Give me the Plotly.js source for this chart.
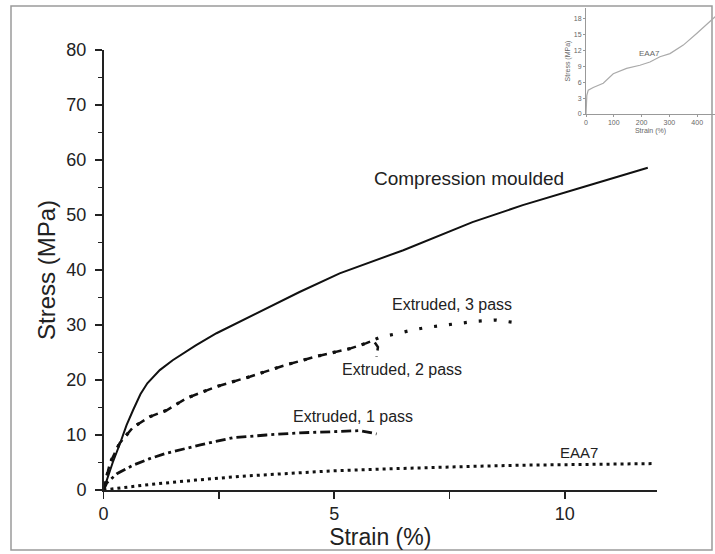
<!DOCTYPE html>
<html>
<head>
<meta charset="utf-8">
<script src="https://cdn.plot.ly/plotly-3.0.1.min.js"></script>
<style>html,body{margin:0;padding:0;background:#fff}#chart{width:715px;height:554px}</style>
</head>
<body>
<div id="chart"></div>
<script>
// Main chart data (strain %, stress MPa)
const cmStrain = [0, 0.07, 0.2, 0.36, 0.5, 0.64, 0.8, 0.95, 1.22, 1.5, 1.73, 2.0, 2.45, 3.17, 4.25, 5.12, 6.5, 8.0, 9.09, 10.33, 11.8];
const cmStress = [0, 1.8, 5.0, 8.5, 11.8, 14.5, 17.4, 19.4, 21.8, 23.6, 24.9, 26.3, 28.5, 31.5, 36.0, 39.4, 43.6, 48.7, 51.8, 54.9, 58.6];

const p1Strain = [0, 0.07, 0.3, 0.64, 1.0, 1.37, 2.1, 2.8, 3.53, 4.25, 4.97, 5.56, 5.92];
const p1Stress = [0, 1.3, 3.0, 4.5, 5.7, 6.7, 8.2, 9.5, 10.0, 10.4, 10.6, 10.8, 10.2];

const p2Strain = [0, 0.14, 0.35, 0.64, 1.0, 1.37, 1.8, 2.45, 3.17, 3.9, 4.62, 5.34, 5.7, 5.85, 5.95, 5.92];
const p2Stress = [0, 4.9, 8.5, 11.4, 13.3, 14.5, 16.7, 18.8, 20.6, 22.6, 24.3, 25.7, 26.7, 27.2, 26.0, 24.2];

const p3Strain = [0, 0.14, 0.35, 0.64, 1.0, 1.37, 1.8, 2.45, 3.17, 3.9, 4.62, 5.34, 5.7, 6.0, 6.4, 6.7, 7.04, 7.4, 7.77, 8.1, 8.5, 8.87];
const p3Stress = [0, 4.9, 8.5, 11.4, 13.3, 14.5, 16.7, 18.8, 20.6, 22.6, 24.3, 25.7, 26.7, 27.8, 28.5, 29.1, 29.6, 30.0, 30.4, 30.7, 30.9, 30.5];

const eaStrain = [0, 0.3, 1, 2, 3, 4, 5, 6, 7, 8, 9, 10, 11, 11.9];
const eaStress = [0, 0.3, 1.0, 1.8, 2.5, 3.0, 3.5, 3.8, 4.1, 4.3, 4.5, 4.6, 4.7, 4.8];

// Inset data (EAA7, full range)
const inStrain = [0, 3, 8, 26, 62, 98, 146, 194, 230, 266, 302, 350, 398, 440, 470];
const inStress = [0, 3.5, 4.5, 5.0, 5.8, 7.6, 8.6, 9.2, 9.8, 10.8, 11.4, 13.0, 15.2, 17.2, 18.6];

const mainXTicks = [0, 5, 10];
const mainYTicks = [0, 10, 20, 30, 40, 50, 60, 70, 80];
const insetXTicks = [0, 100, 200, 300, 400];
const insetYTicks = [0, 3, 6, 9, 12, 15, 18];

const labels = [
  {text: 'Compression moulded', x: 7.92, y: 56.7, size: 19},
  {text: 'Extruded, 3 pass', x: 7.55, y: 33.8, size: 16},
  {text: 'Extruded, 2 pass', x: 6.47, y: 22.0, size: 16},
  {text: 'Extruded, 1 pass', x: 5.4, y: 13.3, size: 16},
  {text: 'EAA7', x: 10.3, y: 6.9, size: 15}
];

const traces = [
  {x: eaStrain, y: eaStress, mode: 'lines', line: {color: '#111', width: 3, dash: '3px,4px'}},
  {x: p3Strain, y: p3Stress, mode: 'lines', line: {color: '#111', width: 3.2, dash: '3px,12px'}},
  {x: p2Strain, y: p2Stress, mode: 'lines', line: {color: '#111', width: 2.5, dash: '9px,6px'}},
  {x: p1Strain, y: p1Stress, mode: 'lines', line: {color: '#111', width: 2.8, dash: '10px,4px,3px,4px'}},
  {x: cmStrain, y: cmStress, mode: 'lines', line: {color: '#111', width: 2}},
  {x: inStrain, y: inStress, mode: 'lines', xaxis: 'x2', yaxis: 'y2', line: {color: '#aaa', width: 1.2}}
];

const W = 715, H = 554;
const px = v => v / W, py = v => 1 - v / H;
const FONT = 'Liberation Sans, Arial, sans-serif';

const annotations = labels.map(l => ({
  text: l.text, x: l.x, y: l.y, xref: 'x', yref: 'y', showarrow: false,
  font: {family: FONT, size: l.size, color: '#222'}
}));
annotations.push({text: 'EAA7', x: 230, y: 11.5, xref: 'x2', yref: 'y2', showarrow: false,
  font: {family: FONT, size: 8, color: '#666'}});

const layout = {
  width: W, height: H,
  margin: {l: 0, r: 0, t: 0, b: 0},
  paper_bgcolor: '#fff', plot_bgcolor: 'rgba(0,0,0,0)',
  showlegend: false,
  font: {family: FONT, color: '#222'},
  xaxis: {
    domain: [px(103.5), px(657)], range: [0, 12], tickvals: mainXTicks, ticktext: mainXTicks.map(String),
    ticks: 'outside', ticklen: 7, tickwidth: 1.5, tickcolor: '#222',
    minor: {tickvals: [2.5, 7.5], ticks: 'outside', ticklen: 7, tickwidth: 1.5, tickcolor: '#222'},
    showline: true, linecolor: '#222', linewidth: 1.5, showgrid: false, zeroline: false,
    tickfont: {size: 18, color: '#222'}, automargin: false, ticklabelstandoff: 0,
    title: {text: 'Strain (%)', font: {size: 23, color: '#222'}, standoff: 2}
  },
  yaxis: {
    domain: [py(490), py(50)], range: [0, 80], tickvals: mainYTicks, ticktext: mainYTicks.map(String),
    ticks: 'outside', ticklen: 7, tickwidth: 1.5, tickcolor: '#222',
    minor: {tickvals: [5, 15, 25, 35, 45, 55, 65, 75], ticks: 'outside', ticklen: 4, tickwidth: 1.5, tickcolor: '#222'},
    showline: true, linecolor: '#222', linewidth: 1.5, showgrid: false, zeroline: false,
    tickfont: {size: 18, color: '#222'}, automargin: false, ticklabelstandoff: 5,
    title: {text: 'Stress (MPa)', font: {size: 24, color: '#222'}, standoff: 4}
  },
  xaxis2: {
    domain: [px(586), 1], range: [0, 464], anchor: 'y2', tickvals: insetXTicks, ticktext: insetXTicks.map(String),
    ticks: 'outside', ticklen: 2, tickwidth: 1, tickcolor: '#999',
    showline: true, linecolor: '#999', linewidth: 1, showgrid: false, zeroline: false,
    tickfont: {size: 7, color: '#666'}, automargin: false,
    title: {text: 'Strain (%)', font: {size: 7, color: '#666'}, standoff: 2}
  },
  yaxis2: {
    domain: [py(114), py(8)], range: [0, 20], anchor: 'x2', tickvals: insetYTicks, ticktext: insetYTicks.map(String),
    ticks: 'outside', ticklen: 2, tickwidth: 1, tickcolor: '#999',
    showline: true, linecolor: '#999', linewidth: 1, showgrid: false, zeroline: false,
    tickfont: {size: 7, color: '#666'}, automargin: false,
    title: {text: 'Stress (MPa)', font: {size: 7, color: '#666'}, standoff: 2}
  },
  annotations: annotations,
  shapes: [
    {type: 'rect', xref: 'paper', yref: 'paper', x0: px(11), x1: px(712), y0: py(550), y1: py(6),
     line: {color: '#9a9a9a', width: 1.5}, fillcolor: 'rgba(0,0,0,0)', layer: 'below'}
  ]
};

Plotly.newPlot('chart', traces, layout, {displayModeBar: false, staticPlot: true});
</script>
</body>
</html>
